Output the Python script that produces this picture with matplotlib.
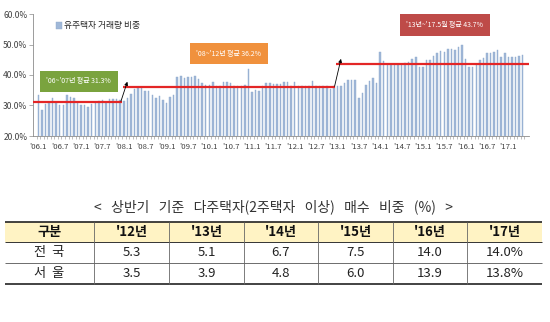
import matplotlib.pyplot as plt
import numpy as np
from matplotlib.patches import Rectangle

plt.rcParams['font.family'] = ['Noto Sans CJK KR', 'DejaVu Sans']

# 월별 유주택자 거래량 비중 (%), '06.1 ~ '17.5
share_2006 = [33.5, 28.5, 30.5, 31.0, 32.3, 31.0, 30.2, 30.3, 33.4, 32.8, 32.4, 31.0]
share_2007 = [30.2, 30.3, 29.6, 30.6, 31.2, 31.6, 31.8, 31.2, 32.2, 32.2, 32.2, 31.8]
share_2008 = [31.6, 32.6, 33.8, 35.4, 35.7, 35.7, 34.9, 34.6, 33.4, 32.5, 33.0, 31.8]
share_2009 = [30.8, 32.8, 33.6, 39.2, 39.6, 39.0, 39.3, 39.5, 39.7, 38.6, 37.3, 36.6]
share_2010 = [36.6, 37.6, 36.5, 36.5, 37.8, 37.8, 37.5, 36.5, 36.5, 36.5, 36.8, 42.0]
share_2011 = [34.3, 35.2, 34.8, 36.5, 37.5, 37.3, 37.0, 37.0, 37.0, 37.6, 37.6, 36.5]
share_2012 = [37.6, 36.5, 36.5, 36.5, 36.5, 38.0, 36.5, 36.5, 36.5, 36.5, 35.3, 36.4]
share_2013 = [36.3, 36.3, 37.3, 38.4, 38.4, 38.4, 32.4, 34.0, 36.7, 38.1, 38.9, 37.3]
share_2014 = [47.6, 44.5, 43.6, 43.6, 43.6, 43.2, 43.4, 44.0, 44.4, 45.1, 46.0, 42.7]
share_2015 = [42.7, 44.9, 44.9, 46.3, 47.1, 48.0, 47.6, 48.4, 48.4, 48.2, 49.3, 49.8]
share_2016 = [45.1, 42.7, 42.7, 43.2, 44.9, 45.5, 47.1, 47.1, 47.6, 48.2, 46.0, 47.1]
share_2017 = [45.8, 45.8, 45.8, 46.2, 46.6]

share = np.array(share_2006 + share_2007 + share_2008 + share_2009 + share_2010 + share_2011
                 + share_2012 + share_2013 + share_2014 + share_2015 + share_2016 + share_2017)

tick_labels = ["'06.1", "'06.7", "'07.1", "'07.7", "'08.1", "'08.7", "'09.1", "'09.7",
               "'10.1", "'10.7", "'11.1", "'11.7", "'12.1", "'12.7", "'13.1", "'13.7",
               "'14.1", "'14.7", "'15.1", "'15.7", "'16.1", "'16.7", "'17.1"]

# 기간별 평균 (시작월 index, 끝월 index)
period_avg = [31.3, 36.2, 43.7]
period_start = [0, 24, 84]
period_end = [23, 83, 136]
period_text = ["'06~'07년 평균 31.3%", "'08~'12년 평균 36.2%", "'13년~'17.5월 평균 43.7%"]
period_color = ['#7AA33E', '#F0913D', '#BE4B48']

# 표 데이터
years = ["'12년", "'13년", "'14년", "'15년", "'16년", "'17년"]
nation = ['5.3', '5.1', '6.7', '7.5', '14.0', '14.0%']
seoul = ['3.5', '3.9', '4.8', '6.0', '13.9', '13.8%']

fig = plt.figure(figsize=(5.5, 3.22), dpi=100, facecolor='w')
W, H = 550.0, 322.0

# ---------------- 막대 차트 ----------------
ax = fig.add_axes([33 / W, 1 - 136 / H, (529 - 33) / W, 122 / H])
x = np.arange(len(share))
ax.bar(x, share, width=0.42, color='#A0B8D8', edgecolor='#8FA9CC', linewidth=0.3,
       label='유주택자 거래량 비중', zorder=2)
ax.set_xlim(-1.5, 137.8)
ax.set_ylim(20, 60)
ax.set_yticks(np.arange(20, 61, 10))
ax.set_yticklabels(['%.1f%%' % v for v in np.arange(20, 61, 10)])
ax.set_xticks(np.arange(0, len(share), 6))
ax.set_xticklabels(tick_labels)
ax.set_xticks(np.arange(-0.5, len(share), 1), minor=True)
ax.tick_params(axis='x', which='major', length=0, labelsize=5.6, colors='#404040', pad=5)
ax.tick_params(axis='x', which='minor', length=2.5, width=0.4, color='#8C8C8C')
ax.tick_params(axis='y', length=3, width=0.5, color='#8C8C8C', labelsize=6.1, labelcolor='#404040', pad=1)
for s in ['top', 'right']:
    ax.spines[s].set_visible(False)
for s in ['left', 'bottom']:
    ax.spines[s].set_color('#8C8C8C')
    ax.spines[s].set_linewidth(0.6)

# 평균선
for k in range(3):
    x0 = period_start[k] - 0.3 if k > 0 else -1.5
    x1 = period_end[k] + 0.4 if k < 2 else 137.8
    ax.hlines(period_avg[k], x0, x1, color='#E32626', linewidth=1.6, zorder=3)
for k in range(2):
    ax.annotate('', xy=(period_start[k + 1] + 1, period_avg[k + 1] + 1.6),
                xytext=(period_end[k] + 0.2, period_avg[k] + 0.1),
                arrowprops=dict(arrowstyle='-|>', color='black', lw=0.6,
                                mutation_scale=5, shrinkA=0, shrinkB=0), zorder=4)

# 평균 표시 상자
box_pos = [(11.3, 38.0), (53.5, 47.0), (114.2, 56.4)]
for k in range(3):
    ax.text(box_pos[k][0], box_pos[k][1], period_text[k], color='white', fontsize=5,
            ha='center', va='center', zorder=5,
            bbox=dict(boxstyle='square,pad=0.95', facecolor=period_color[k], edgecolor='none'))

leg = ax.legend(loc='upper left', bbox_to_anchor=(0.035, 0.99), frameon=False, fontsize=6.3,
                handlelength=0.6, handleheight=0.9, handletextpad=0.3, borderpad=0.2)
for t in leg.get_texts():
    t.set_color('#262626')

# ---------------- 표 ----------------
tab = fig.add_axes([0, 0, 1, 1])
tab.set_xlim(0, W)
tab.set_ylim(H, 0)
tab.axis('off')

tab.text(274, 207, '<   상반기   기준   다주택자(2주택자   이상)   매수   비중   (%)   >',
         ha='center', va='center', fontsize=10, color='#333333')

edges = [5, 94, 169, 244, 318, 393, 467, 542]
rows = [221.7, 241.7, 263.0, 284.3]
tab.add_patch(Rectangle((edges[0], rows[0]), edges[-1] - edges[0], rows[1] - rows[0],
                        facecolor='#FFF3C4', edgecolor='none'))
tab.hlines(rows[0], edges[0], edges[-1], color='#222222', linewidth=1.2)
tab.hlines(rows[1], edges[0], edges[-1], color='#333333', linewidth=0.7)
tab.hlines(rows[2], edges[0], edges[-1], color='#555555', linewidth=0.6)
tab.hlines(rows[3], edges[0], edges[-1], color='#222222', linewidth=1.2)
for e in edges[1:-1]:
    tab.vlines(e, rows[0], rows[3], color='#666666', linewidth=0.6)

yc = [(rows[i] + rows[i + 1]) / 2 for i in range(3)]
tab.text((edges[0] + edges[1]) / 2, yc[0], '구분', ha='center', va='center',
         fontsize=9.5, fontweight='bold', color='#111111')
tab.text((edges[0] + edges[1]) / 2, yc[1], '전  국', ha='center', va='center', fontsize=9.5, color='#222222')
tab.text((edges[0] + edges[1]) / 2, yc[2], '서  울', ha='center', va='center', fontsize=9.5, color='#222222')
for j in range(len(years)):
    cx = (edges[j + 1] + edges[j + 2]) / 2
    tab.text(cx, yc[0], years[j], ha='center', va='center', fontsize=9.5, fontweight='bold', color='#111111')
    tab.text(cx, yc[1], nation[j], ha='center', va='center', fontsize=9.5, color='#222222')
    tab.text(cx, yc[2], seoul[j], ha='center', va='center', fontsize=9.5, color='#222222')

fig.savefig('out.png', dpi=100)
